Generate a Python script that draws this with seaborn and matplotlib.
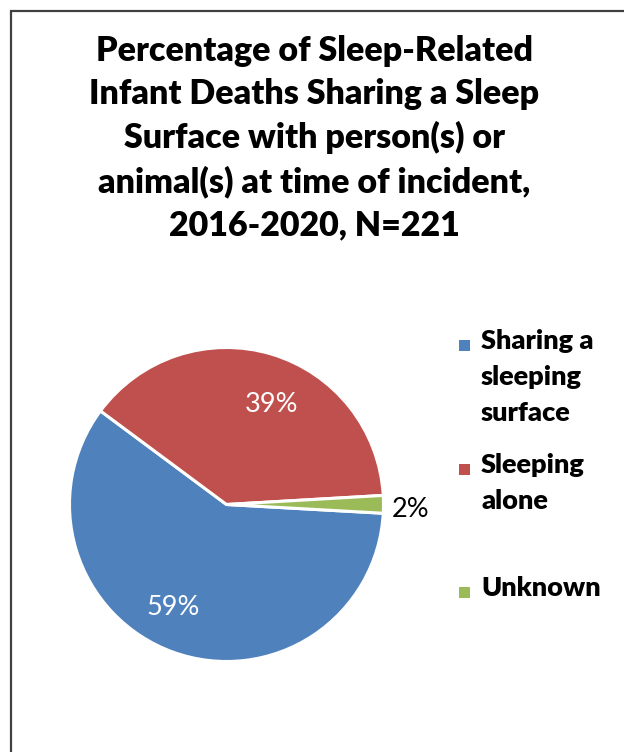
import numpy as np
import matplotlib
matplotlib.use("Agg")
import matplotlib.pyplot as plt
import seaborn as sns
from matplotlib.patches import Rectangle

# data
categories = ["Sharing a\nsleeping\nsurface", "Sleeping\nalone", "Unknown"]
counts = [131, 86, 4]
pct_labels = ["59%", "39%", "2%"]
colors = ["#4F81BD", "#C0504D", "#9BBB59"]
title = ("Percentage of Sleep-Related\nInfant Deaths Sharing a Sleep\n"
         "Surface with person(s) or\nanimal(s) at time of incident,\n2016-2020, N=221")

sns.set_style("white")
plt.rcParams["font.family"] = ["Lato", "DejaVu Sans"]

W, H = 624, 752
fig = plt.figure(figsize=(W / 100, H / 100), dpi=100)

# outer frame (runs off the right and bottom edges)
fig.patches.append(Rectangle((11 / W, -0.05), 1.1, (H - 11) / H + 0.05,
                             transform=fig.transFigure, fill=False,
                             edgecolor="#404040", linewidth=1.6))

fig.text(314 / W, 1 - 35 / H, title, ha="center", va="top", fontsize=24.5,
         fontweight="heavy", linespacing=1.42, color="black")

# pie
cx, cy, r = 226.5, 504.5, 157
ax = fig.add_axes([(cx - r) / W, (H - cy - r) / H, 2 * r / W, 2 * r / H])
wedges, _ = ax.pie(counts, colors=colors, startangle=356.8, counterclock=False,
                   wedgeprops=dict(edgecolor="white", linewidth=2.2))
ax.set_xlim(-1, 1)
ax.set_ylim(-1, 1)
ax.set_aspect("equal")
ax.axis("off")

dist = [0.74, 0.70, 1.17]
shift = [-7.5, -7.5, -1.5]
txt_colors = ["white", "white", "black"]
for w, lab, d, s, c in zip(wedges, pct_labels, dist, shift, txt_colors):
    ang = np.deg2rad((w.theta1 + w.theta2) / 2 + s)
    ax.text(d * np.cos(ang), d * np.sin(ang), lab, ha="center", va="center",
            fontsize=19.5, color=c, clip_on=False)

# legend
leg_y = [345, 469, 592]
for lab, c, y in zip(categories, colors, leg_y):
    fig.patches.append(Rectangle((459 / W, 1 - (y + 5.5) / H), 11 / W, 11 / H,
                                 transform=fig.transFigure, facecolor=c,
                                 edgecolor="none"))
    fig.text(481 / W, 1 - (y - 16) / H, lab, ha="left", va="top", fontsize=19.5,
             fontweight="heavy", linespacing=1.6, color="black")

fig.savefig("out.png", dpi=100)
